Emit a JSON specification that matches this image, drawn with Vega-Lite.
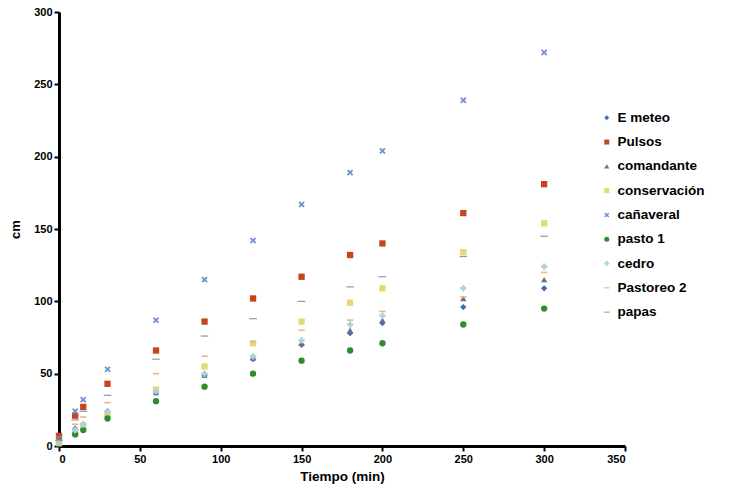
{
  "$schema": "https://vega.github.io/schema/vega-lite/v6.json",
  "width": 566,
  "height": 434,
  "autosize": "none",
  "padding": {"left": 59, "top": 12, "right": 125, "bottom": 45},
  "background": "white",
  "config": {"view": {"stroke": null}, "font": "Liberation Sans"},
  "datasets": {
    "pts": [
      {"serie": "E meteo", "t": 0, "cm": 2}, {"serie": "E meteo", "t": 10, "cm": 12}, {"serie": "E meteo", "t": 15, "cm": 15}, {"serie": "E meteo", "t": 30, "cm": 24}, {"serie": "E meteo", "t": 60, "cm": 37}, {"serie": "E meteo", "t": 90, "cm": 49}, {"serie": "E meteo", "t": 120, "cm": 60}, {"serie": "E meteo", "t": 150, "cm": 70}, {"serie": "E meteo", "t": 180, "cm": 78}, {"serie": "E meteo", "t": 200, "cm": 85}, {"serie": "E meteo", "t": 250, "cm": 96}, {"serie": "E meteo", "t": 300, "cm": 109},
      {"serie": "Pulsos", "t": 0, "cm": 7}, {"serie": "Pulsos", "t": 10, "cm": 21}, {"serie": "Pulsos", "t": 15, "cm": 27}, {"serie": "Pulsos", "t": 30, "cm": 43}, {"serie": "Pulsos", "t": 60, "cm": 66}, {"serie": "Pulsos", "t": 90, "cm": 86}, {"serie": "Pulsos", "t": 120, "cm": 102}, {"serie": "Pulsos", "t": 150, "cm": 117}, {"serie": "Pulsos", "t": 180, "cm": 132}, {"serie": "Pulsos", "t": 200, "cm": 140}, {"serie": "Pulsos", "t": 250, "cm": 161}, {"serie": "Pulsos", "t": 300, "cm": 181},
      {"serie": "comandante", "t": 0, "cm": 2}, {"serie": "comandante", "t": 10, "cm": 11}, {"serie": "comandante", "t": 15, "cm": 14}, {"serie": "comandante", "t": 30, "cm": 23}, {"serie": "comandante", "t": 60, "cm": 37}, {"serie": "comandante", "t": 90, "cm": 49}, {"serie": "comandante", "t": 120, "cm": 61}, {"serie": "comandante", "t": 150, "cm": 71}, {"serie": "comandante", "t": 180, "cm": 80}, {"serie": "comandante", "t": 200, "cm": 87}, {"serie": "comandante", "t": 250, "cm": 102}, {"serie": "comandante", "t": 300, "cm": 115},
      {"serie": "conservación", "t": 0, "cm": 2}, {"serie": "conservación", "t": 10, "cm": 10}, {"serie": "conservación", "t": 15, "cm": 14}, {"serie": "conservación", "t": 30, "cm": 22}, {"serie": "conservación", "t": 60, "cm": 39}, {"serie": "conservación", "t": 90, "cm": 55}, {"serie": "conservación", "t": 120, "cm": 71}, {"serie": "conservación", "t": 150, "cm": 86}, {"serie": "conservación", "t": 180, "cm": 99}, {"serie": "conservación", "t": 200, "cm": 109}, {"serie": "conservación", "t": 250, "cm": 134}, {"serie": "conservación", "t": 300, "cm": 154},
      {"serie": "cañaveral", "t": 0, "cm": 5}, {"serie": "cañaveral", "t": 10, "cm": 24}, {"serie": "cañaveral", "t": 15, "cm": 32}, {"serie": "cañaveral", "t": 30, "cm": 53}, {"serie": "cañaveral", "t": 60, "cm": 87}, {"serie": "cañaveral", "t": 90, "cm": 115}, {"serie": "cañaveral", "t": 120, "cm": 142}, {"serie": "cañaveral", "t": 150, "cm": 167}, {"serie": "cañaveral", "t": 180, "cm": 189}, {"serie": "cañaveral", "t": 200, "cm": 204}, {"serie": "cañaveral", "t": 250, "cm": 239}, {"serie": "cañaveral", "t": 300, "cm": 272},
      {"serie": "pasto 1", "t": 0, "cm": 3}, {"serie": "pasto 1", "t": 10, "cm": 8}, {"serie": "pasto 1", "t": 15, "cm": 11}, {"serie": "pasto 1", "t": 30, "cm": 19}, {"serie": "pasto 1", "t": 60, "cm": 31}, {"serie": "pasto 1", "t": 90, "cm": 41}, {"serie": "pasto 1", "t": 120, "cm": 50}, {"serie": "pasto 1", "t": 150, "cm": 59}, {"serie": "pasto 1", "t": 180, "cm": 66}, {"serie": "pasto 1", "t": 200, "cm": 71}, {"serie": "pasto 1", "t": 250, "cm": 84}, {"serie": "pasto 1", "t": 300, "cm": 95},
      {"serie": "cedro", "t": 0, "cm": 2}, {"serie": "cedro", "t": 10, "cm": 11}, {"serie": "cedro", "t": 15, "cm": 15}, {"serie": "cedro", "t": 30, "cm": 24}, {"serie": "cedro", "t": 60, "cm": 38}, {"serie": "cedro", "t": 90, "cm": 50}, {"serie": "cedro", "t": 120, "cm": 62}, {"serie": "cedro", "t": 150, "cm": 73}, {"serie": "cedro", "t": 180, "cm": 84}, {"serie": "cedro", "t": 200, "cm": 90}, {"serie": "cedro", "t": 250, "cm": 109}, {"serie": "cedro", "t": 300, "cm": 124},
      {"serie": "Pastoreo 2", "t": 0, "cm": 3}, {"serie": "Pastoreo 2", "t": 10, "cm": 15}, {"serie": "Pastoreo 2", "t": 15, "cm": 20}, {"serie": "Pastoreo 2", "t": 30, "cm": 30}, {"serie": "Pastoreo 2", "t": 60, "cm": 50}, {"serie": "Pastoreo 2", "t": 90, "cm": 62}, {"serie": "Pastoreo 2", "t": 120, "cm": 72}, {"serie": "Pastoreo 2", "t": 150, "cm": 80}, {"serie": "Pastoreo 2", "t": 180, "cm": 87}, {"serie": "Pastoreo 2", "t": 200, "cm": 93}, {"serie": "Pastoreo 2", "t": 250, "cm": 103}, {"serie": "Pastoreo 2", "t": 300, "cm": 120},
      {"serie": "papas", "t": 0, "cm": 4}, {"serie": "papas", "t": 10, "cm": 18}, {"serie": "papas", "t": 15, "cm": 24}, {"serie": "papas", "t": 30, "cm": 35}, {"serie": "papas", "t": 60, "cm": 60}, {"serie": "papas", "t": 90, "cm": 76}, {"serie": "papas", "t": 120, "cm": 88}, {"serie": "papas", "t": 150, "cm": 100}, {"serie": "papas", "t": 180, "cm": 110}, {"serie": "papas", "t": 200, "cm": 117}, {"serie": "papas", "t": 250, "cm": 131}, {"serie": "papas", "t": 300, "cm": 145}
    ]
  },
  "data": {"name": "pts"},
  "mark": {"type": "point", "filled": true, "size": 40, "opacity": 1},
  "encoding": {
    "x": {
      "field": "t", "type": "quantitative",
      "scale": {"domain": [0, 350], "nice": false},
      "axis": {
        "title": "Tiempo (min)", "values": [0, 50, 100, 150, 200, 250, 300, 350],
        "grid": false, "domainColor": "black", "domainWidth": 3,
        "tickColor": "black", "tickWidth": 2, "tickSize": 5,
        "labelFont": "Liberation Sans", "labelFontSize": 11, "labelFontWeight": "bold", "labelColor": "black",
        "titleFont": "Liberation Sans", "titleFontSize": 13.5, "titleFontWeight": "bold", "titleColor": "black", "titlePadding": 5
      }
    },
    "y": {
      "field": "cm", "type": "quantitative",
      "scale": {"domain": [0, 300], "nice": false},
      "axis": {
        "title": "cm", "values": [0, 50, 100, 150, 200, 250, 300],
        "grid": false, "domainColor": "black", "domainWidth": 3,
        "tickColor": "black", "tickWidth": 2, "tickSize": 5,
        "labelFont": "Liberation Sans", "labelFontSize": 11, "labelFontWeight": "bold", "labelColor": "black",
        "titleFont": "Liberation Sans", "titleFontSize": 13, "titleFontWeight": "bold", "titleColor": "black", "titlePadding": 11
      }
    },
    "color": {
      "field": "serie", "type": "nominal",
      "scale": {
        "domain": ["E meteo", "Pulsos", "comandante", "conservación", "cañaveral", "pasto 1", "cedro", "Pastoreo 2", "papas"],
        "range": ["#3A6FB8", "#C8451C", "#6F6F80", "#E6DA6E", "#7090D0", "#2E8B2E", "#A9D2E2", "#F2B27A", "#9A9AA0"]
      },
      "legend": {
        "title": null, "orient": "none", "legendX": 541, "legendY": 99,
        "labelFont": "Liberation Sans", "labelFontSize": 13.5, "labelFontWeight": "bold", "labelColor": "black",
        "rowPadding": 9.3, "symbolSize": 25, "labelOffset": 4
      }
    },
    "shape": {
      "field": "serie", "type": "nominal",
      "scale": {
        "domain": ["E meteo", "Pulsos", "comandante", "conservación", "cañaveral", "pasto 1", "cedro", "Pastoreo 2", "papas"],
        "range": ["diamond", "square", "triangle-up", "square", "M-1,-0.6L-0.6,-1L0,-0.4L0.6,-1L1,-0.6L0.4,0L1,0.6L0.6,1L0,0.4L-0.6,1L-1,0.6L-0.4,0Z", "circle", "cross", "M-1,-0.25H1V0.25H-1Z", "M-1.2,-0.2H1.2V0.2H-1.2Z"]
      },
      "legend": null
    }
  }
}
